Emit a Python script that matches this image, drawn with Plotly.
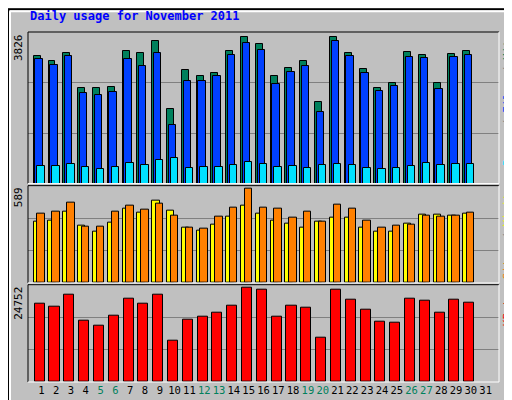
import plotly.graph_objects as go

days = list(range(1, 32))
weekend = [5, 6, 12, 13, 19, 20, 26, 27]
hits = [3218,3093,3293,2418,2418,2443,3343,3293,3593,1893,2868,2718,2793,3343,3693,3518,2718,2918,3093,2068,3693,3293,2893,2418,2543,3318,3243,2543,3268,3343]
files = [3143,2993,3218,2293,2243,2318,3143,2968,3293,1468,2593,2593,2718,3243,3543,3368,2518,2818,2968,1818,3593,3218,2793,2343,2468,3193,3168,2393,3193,3243]
pages = [443,443,493,418,368,418,518,468,593,643,393,418,418,468,543,493,418,443,393,468,493,468,393,368,393,443,518,468,493,493]
visits = [374,380,430,349,312,368,448,424,498,436,337,318,355,399,467,417,380,362,337,374,393,393,337,312,312,362,411,411,405,417]
sites = [417,430,486,343,343,430,467,442,479,405,337,331,399,455,572,455,448,393,430,374,473,448,380,337,349,355,405,399,405,424]
kbytes = [20000,19210,22090,15540,14230,16850,21300,20000,22090,10560,15800,16590,17640,19470,23920,23400,16590,19470,18950,11350,23400,21040,18420,15280,15010,21300,20780,17640,21040,20260]
max_top, max_mid, max_bot = 3826, 589, 24752

d = days[:len(hits)]
line = dict(color="black", width=1)
def bar(vals, off, w, col, ya):
    return go.Bar(x=[v + off for v in d], y=vals, width=w, marker=dict(color=col, line=line),
                  yaxis=ya, xaxis="x", showlegend=False)

fig = go.Figure([
    bar(hits, -0.28, 0.47, "#00805c", "y"),
    bar(files, -0.15, 0.5, "#0040ff", "y"),
    bar(pages, -0.01, 0.5, "#00e0ff", "y"),
    bar(visits, -0.27, 0.5, "#ffff00", "y2"),
    bar(sites, -0.01, 0.5, "#ff8000", "y2"),
    bar(kbytes, -0.11, 0.68, "#ff0000", "y3"),
])
mono = "DejaVu Sans Mono"
grid = dict(showgrid=True, gridcolor="#808080", gridwidth=1, zeroline=False, showticklabels=False, ticks="")
ticktext = [f'<span style="color:{"#00805c" if x in weekend else "black"}">{x}</span>' for x in days]
fig.update_layout(
    width=512, height=400, margin=dict(l=20, r=21, t=24, b=23),
    paper_bgcolor="#c0c0c0", plot_bgcolor="#c0c0c0", barmode="overlay", bargap=0,
    font=dict(family=mono, size=11, color="black"),
    xaxis=dict(range=[0.1, 31.9], tickvals=days, ticktext=ticktext, showgrid=False, zeroline=False,
               ticks="", tickangle=0, tickfont=dict(size=10.5), anchor="y3"),
    yaxis=dict(domain=[0.567, 1], range=[0, max_top], dtick=max_top / 3, **grid),
    yaxis2=dict(domain=[0.283, 0.561], range=[0, max_mid], dtick=max_mid / 3, **grid),
    yaxis3=dict(domain=[0, 0.278], range=[0, max_bot], dtick=max_bot / 3, **grid),
)
fig.add_annotation(text="<b>Daily usage for November 2011</b>", xref="paper", yref="paper",
                   x=0, y=1.02, xanchor="left", yanchor="bottom", showarrow=False,
                   font=dict(family=mono, size=12, color="#0000ff"))
for lbl, dom in [(max_top, 1), (max_mid, 0.561), (max_bot, 0.278)]:
    fig.add_annotation(text=str(lbl), xref="paper", yref="paper", x=-0.002, y=dom, xanchor="right",
                       yanchor="top", textangle=-90, showarrow=False, font=dict(size=11))
right = [
    ('<span style="color:#00e0ff">Pages</span> / <span style="color:#0040ff">Files</span> / <span style="color:#00805c">Hits</span>', 1),
    ('<span style="color:#ff8000">Sites</span> / <span style="color:#ffff00">Visits</span>', 0.561),
    ('<span style="color:#ff0000">KBytes</span>', 0.278),
]
for t, dom in right:
    fig.add_annotation(text=t, xref="paper", yref="paper", x=1.002, y=dom, xanchor="left", yanchor="top",
                       textangle=-90, showarrow=False, borderpad=0, font=dict(size=11, color="#808080"))
for lo, hi in [(0.567, 1), (0.283, 0.561), (0, 0.278)]:
    fig.add_shape(type="line", xref="paper", yref="paper", x0=0, x1=1, y0=hi, y1=hi, line=dict(color="black", width=1))
    fig.add_shape(type="line", xref="paper", yref="paper", x0=0, x1=0, y0=lo, y1=hi, line=dict(color="black", width=1))
    fig.add_shape(type="line", xref="paper", yref="paper", x0=0, x1=1, y0=lo, y1=lo, line=dict(color="white", width=1))
    fig.add_shape(type="line", xref="paper", yref="paper", x0=1, x1=1, y0=lo, y1=hi, line=dict(color="white", width=1))
fig.add_shape(type="rect", xref="paper", yref="paper", x0=-20/471, x1=1+20/471, y0=-22/353, y1=1+23/353,
              line=dict(color="black", width=2))
fig.add_shape(type="line", xref="paper", yref="paper", x0=-18/471, x1=1+18/471, y0=1+21/353, y1=1+21/353, line=dict(color="white", width=2))
fig.add_shape(type="line", xref="paper", yref="paper", x0=-18/471, x1=-18/471, y0=-20/353, y1=1+21/353, line=dict(color="white", width=2))
fig.add_shape(type="line", xref="paper", yref="paper", x0=-18/471, x1=1+18/471, y0=-20/353, y1=-20/353, line=dict(color="#808080", width=3))
fig.add_shape(type="line", xref="paper", yref="paper", x0=1+18/471, x1=1+18/471, y0=-20/353, y1=1+21/353, line=dict(color="#808080", width=3))
fig.write_html("out.html")
